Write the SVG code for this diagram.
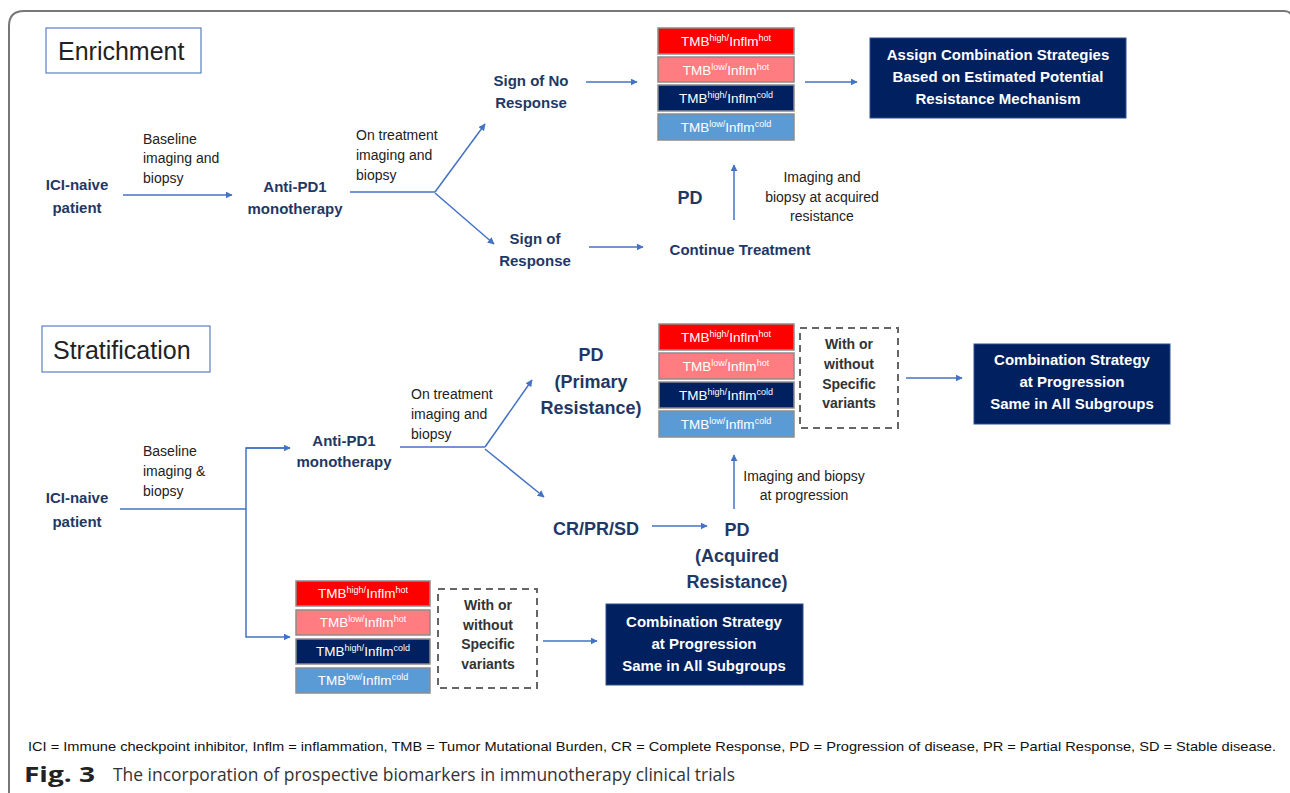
<svg xmlns="http://www.w3.org/2000/svg" width="1290" height="793" viewBox="0 0 1290 793">
<defs>
<marker id="ah" viewBox="0 0 10 10" refX="9" refY="5" markerWidth="7" markerHeight="7" markerUnits="userSpaceOnUse" orient="auto">
<path d="M0,0 L10,5 L0,10 z" fill="#4472C4"/>
</marker>
<style>
.lbl{font-family:"Liberation Sans",Arial,sans-serif;font-size:15px;font-weight:bold;fill:#1F3864;text-anchor:middle}
.big{font-size:18px}
.sm{font-family:"Liberation Sans",Arial,sans-serif;font-size:14px;fill:#222}
.smc{font-family:"Liberation Sans",Arial,sans-serif;font-size:14px;fill:#222;text-anchor:middle}
.title{font-family:"Liberation Sans",Arial,sans-serif;font-size:25px;fill:#222}
.tbox{fill:#fff;stroke:#5B7FC7;stroke-width:1.2}
.wb{font-family:"Liberation Sans",Arial,sans-serif;font-size:15px;font-weight:bold;fill:#fff;text-anchor:middle}
.bb{fill:#002060;stroke:#2F4F8F;stroke-width:1}
.tmb{stroke:#8C8C8C;stroke-width:1.5}
.tt{font-family:"Liberation Sans",Arial,sans-serif;font-size:13.5px;fill:#fff;text-anchor:middle}
.dash{fill:none;stroke:#666;stroke-width:2;stroke-dasharray:7,5}
.dt{font-family:"Liberation Sans",Arial,sans-serif;font-size:14px;font-weight:bold;fill:#333;text-anchor:middle}
.ar{fill:none;stroke:#4472C4;stroke-width:1.5}
.ln{fill:none;stroke:#4472C4;stroke-width:1.5}
</style>
</defs>
<rect width="1290" height="793" fill="#fff"/>
<path d="M9,793 L9,26 Q9,11 24,11 L1284,11 Q1290,11 1292,16" fill="none" stroke="#777" stroke-width="2"/>

<g id="enrichment-title"><rect class="tbox" x="46" y="28" width="155" height="45"/><text class="title" x="58" y="60">Enrichment</text></g>
<g id="e-ici"><text class="lbl" x="77" y="190">ICI-naive</text><text class="lbl" x="77" y="213">patient</text></g>
<g id="e-anti"><text class="lbl" x="295" y="192">Anti-PD1</text><text class="lbl" x="295" y="214">monotherapy</text></g>
<g id="e-noresp"><text class="lbl" x="531" y="86">Sign of No</text><text class="lbl" x="531" y="108">Response</text></g>
<g id="e-resp"><text class="lbl" x="535" y="244">Sign of</text><text class="lbl" x="535" y="266">Response</text></g>
<g id="e-tmb">
<rect class="tmb" x="658" y="28" width="136" height="26" fill="#FF0000"/>
<text class="tt" x="726" y="46">TMB<tspan dy="-5" font-size="9">high/</tspan><tspan dy="5">Inflm</tspan><tspan dy="-5" font-size="9">hot</tspan></text>
<rect class="tmb" x="658" y="57" width="136" height="25" fill="#FF7C80"/>
<text class="tt" x="726" y="75">TMB<tspan dy="-5" font-size="9">low/</tspan><tspan dy="5">Inflm</tspan><tspan dy="-5" font-size="9">hot</tspan></text>
<rect class="tmb" x="658" y="85" width="136" height="26" fill="#002060"/>
<text class="tt" x="726" y="103">TMB<tspan dy="-5" font-size="9">high/</tspan><tspan dy="5">Inflm</tspan><tspan dy="-5" font-size="9">cold</tspan></text>
<rect class="tmb" x="658" y="114" width="136" height="26" fill="#5B9BD5"/>
<text class="tt" x="726" y="132">TMB<tspan dy="-5" font-size="9">low/</tspan><tspan dy="5">Inflm</tspan><tspan dy="-5" font-size="9">cold</tspan></text>
</g>
<g id="e-assign"><rect class="bb" x="870" y="38" width="256" height="80"/>
<text class="wb" x="998" y="60">Assign Combination Strategies</text><text class="wb" x="998" y="82">Based on Estimated Potential</text><text class="wb" x="998" y="104">Resistance Mechanism</text></g>
<g id="e-pd"><text class="lbl big" x="690" y="204">PD</text></g>
<g id="e-cont"><text class="lbl" x="740" y="255">Continue Treatment</text></g>

<g id="stratification-title"><rect class="tbox" x="42" y="326" width="168" height="46"/><text class="title" x="53" y="359">Stratification</text></g>
<g id="s-ici"><text class="lbl" x="77" y="503">ICI-naive</text><text class="lbl" x="77" y="527">patient</text></g>
<g id="s-anti"><text class="lbl" x="344" y="446">Anti-PD1</text><text class="lbl" x="344" y="467">monotherapy</text></g>
<g id="s-pdprim"><text class="lbl big" x="591" y="361">PD</text><text class="lbl big" x="591" y="388">(Primary</text><text class="lbl big" x="591" y="414">Resistance)</text></g>
<g id="s-crprsd"><text class="lbl big" x="596" y="535">CR/PR/SD</text></g>
<g id="s-pdacq"><text class="lbl big" x="737" y="536">PD</text><text class="lbl big" x="737" y="562">(Acquired</text><text class="lbl big" x="737" y="588">Resistance)</text></g>
<g id="s-tmb1">
<rect class="tmb" x="659" y="324" width="135" height="26" fill="#FF0000"/>
<text class="tt" x="726" y="342">TMB<tspan dy="-5" font-size="9">high/</tspan><tspan dy="5">Inflm</tspan><tspan dy="-5" font-size="9">hot</tspan></text>
<rect class="tmb" x="659" y="353" width="135" height="26" fill="#FF7C80"/>
<text class="tt" x="726" y="371">TMB<tspan dy="-5" font-size="9">low/</tspan><tspan dy="5">Inflm</tspan><tspan dy="-5" font-size="9">hot</tspan></text>
<rect class="tmb" x="659" y="382" width="135" height="26" fill="#002060"/>
<text class="tt" x="726" y="400">TMB<tspan dy="-5" font-size="9">high/</tspan><tspan dy="5">Inflm</tspan><tspan dy="-5" font-size="9">cold</tspan></text>
<rect class="tmb" x="659" y="411" width="135" height="26" fill="#5B9BD5"/>
<text class="tt" x="726" y="429">TMB<tspan dy="-5" font-size="9">low/</tspan><tspan dy="5">Inflm</tspan><tspan dy="-5" font-size="9">cold</tspan></text>
</g>
<g id="s-var1"><rect class="dash" x="800" y="328" width="98" height="100"/>
<text class="dt" x="849" y="349">With or</text><text class="dt" x="849" y="369">without</text><text class="dt" x="849" y="389">Specific</text><text class="dt" x="849" y="408">variants</text></g>
<g id="s-comb1"><rect class="bb" x="974" y="344" width="196" height="80"/>
<text class="wb" x="1072" y="365">Combination Strategy</text><text class="wb" x="1072" y="387">at Progression</text><text class="wb" x="1072" y="409">Same in All Subgroups</text></g>
<g id="s-tmb2">
<rect class="tmb" x="296" y="581" width="134" height="25" fill="#FF0000"/>
<text class="tt" x="363" y="598">TMB<tspan dy="-5" font-size="9">high/</tspan><tspan dy="5">Inflm</tspan><tspan dy="-5" font-size="9">hot</tspan></text>
<rect class="tmb" x="296" y="610" width="134" height="25" fill="#FF7C80"/>
<text class="tt" x="363" y="627">TMB<tspan dy="-5" font-size="9">low/</tspan><tspan dy="5">Inflm</tspan><tspan dy="-5" font-size="9">hot</tspan></text>
<rect class="tmb" x="296" y="639" width="134" height="25" fill="#002060"/>
<text class="tt" x="363" y="656">TMB<tspan dy="-5" font-size="9">high/</tspan><tspan dy="5">Inflm</tspan><tspan dy="-5" font-size="9">cold</tspan></text>
<rect class="tmb" x="296" y="668" width="134" height="25" fill="#5B9BD5"/>
<text class="tt" x="363" y="685">TMB<tspan dy="-5" font-size="9">low/</tspan><tspan dy="5">Inflm</tspan><tspan dy="-5" font-size="9">cold</tspan></text>
</g>
<g id="s-var2"><rect class="dash" x="438" y="589" width="99" height="99"/>
<text class="dt" x="488" y="610">With or</text><text class="dt" x="488" y="630">without</text><text class="dt" x="488" y="649">Specific</text><text class="dt" x="488" y="669">variants</text></g>
<g id="s-comb2"><rect class="bb" x="606" y="604" width="197" height="81"/>
<text class="wb" x="704" y="627">Combination Strategy</text><text class="wb" x="704" y="649">at Progression</text><text class="wb" x="704" y="671">Same in All Subgroups</text></g>

<g id="connectors">
<line class="ar" x1="123" y1="195" x2="232" y2="195" marker-end="url(#ah)"/>
<polyline class="ln" points="350,192 435,192"/>
<line class="ar" x1="435" y1="192" x2="485" y2="124" marker-end="url(#ah)"/>
<line class="ar" x1="435" y1="193" x2="494" y2="244" marker-end="url(#ah)"/>
<line class="ar" x1="586" y1="82" x2="637" y2="82" marker-end="url(#ah)"/>
<line class="ar" x1="589" y1="247" x2="643" y2="247" marker-end="url(#ah)"/>
<line class="ar" x1="805" y1="82" x2="857" y2="82" marker-end="url(#ah)"/>
<line class="ar" x1="734" y1="220" x2="734" y2="165" marker-end="url(#ah)"/>
<polyline class="ln" points="120,509 246,509"/>
<polyline class="ar" points="290,448 246,448 246,637 290,637" marker-end="url(#ah)"/>
<line class="ar" x1="246" y1="448" x2="290" y2="448" marker-end="url(#ah)"/>
<polyline class="ln" points="400,447 485,447"/>
<line class="ar" x1="485" y1="447" x2="532" y2="380" marker-end="url(#ah)"/>
<line class="ar" x1="485" y1="449" x2="544" y2="497" marker-end="url(#ah)"/>
<line class="ar" x1="652" y1="526" x2="707" y2="526" marker-end="url(#ah)"/>
<line class="ar" x1="734" y1="509" x2="734" y2="455" marker-end="url(#ah)"/>
<line class="ar" x1="906" y1="378" x2="962" y2="378" marker-end="url(#ah)"/>
<line class="ar" x1="543" y1="641" x2="597" y2="641" marker-end="url(#ah)"/>
</g>

<g id="edge-labels">
<text class="sm" x="143" y="144">Baseline</text><text class="sm" x="143" y="163">imaging and</text><text class="sm" x="143" y="183">biopsy</text>
<text class="sm" x="356" y="140">On treatment</text><text class="sm" x="356" y="160">imaging and</text><text class="sm" x="356" y="180">biopsy</text>
<text class="smc" x="822" y="182">Imaging and</text><text class="smc" x="822" y="202">biopsy at acquired</text><text class="smc" x="822" y="221">resistance</text>
<text class="sm" x="143" y="456">Baseline</text><text class="sm" x="143" y="476">imaging &amp;</text><text class="sm" x="143" y="496">biopsy</text>
<text class="sm" x="411" y="399">On treatment</text><text class="sm" x="411" y="419">imaging and</text><text class="sm" x="411" y="439">biopsy</text>
<text class="smc" x="804" y="481">Imaging and biopsy</text><text class="smc" x="804" y="500">at progression</text>
</g>

<g id="footer">
<text x="28" y="751" font-family="'Liberation Sans',Arial,sans-serif" font-size="13" fill="#111" textLength="1248" lengthAdjust="spacingAndGlyphs">ICI = Immune checkpoint inhibitor, Inflm = inflammation, TMB = Tumor Mutational Burden, CR = Complete Response, PD = Progression of disease, PR = Partial Response, SD = Stable disease.</text>
<text x="24" y="782" font-family="'Open Sans','Liberation Sans',Arial,sans-serif" font-size="22" font-weight="bold" fill="#222" textLength="71" lengthAdjust="spacingAndGlyphs">Fig. 3</text>
<text x="113" y="781" font-family="'Open Sans','Liberation Sans',Arial,sans-serif" font-size="18" fill="#333" textLength="622" lengthAdjust="spacingAndGlyphs">The incorporation of prospective biomarkers in immunotherapy clinical trials</text>
</g>
</svg>
